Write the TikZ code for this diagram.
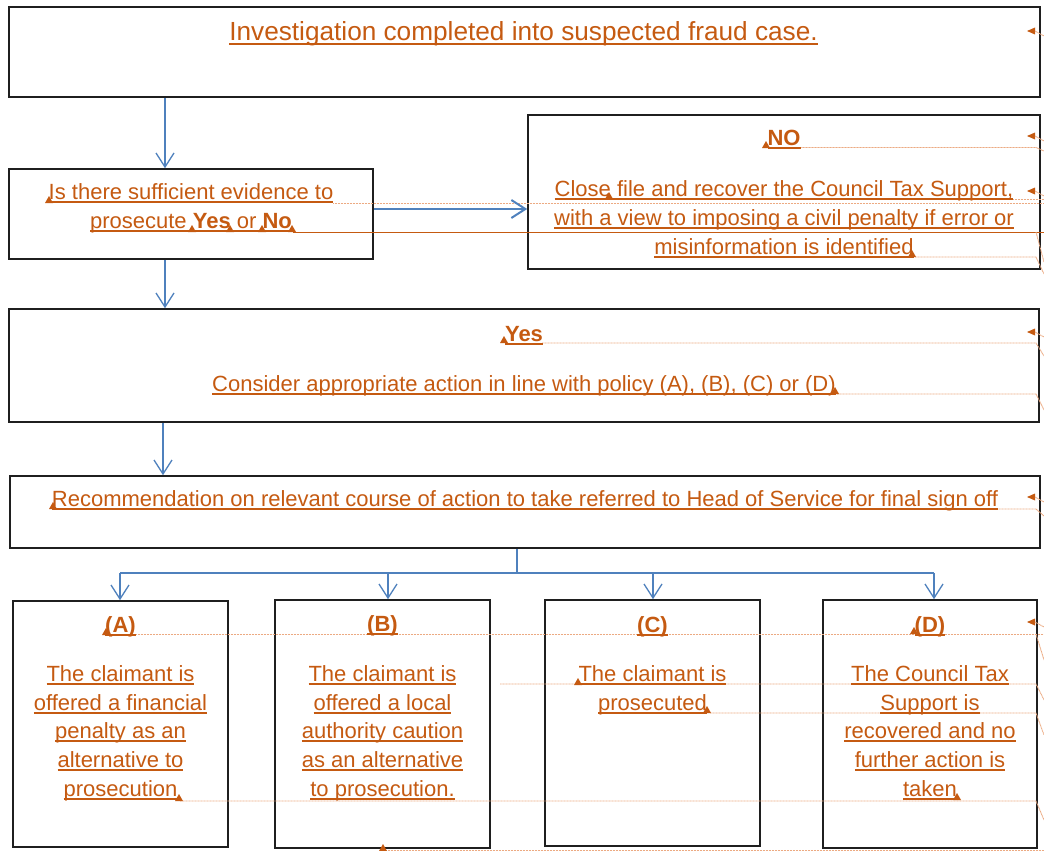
\documentclass[tikz,border=0pt]{standalone}
\usepackage{fontspec}
\setmainfont{Liberation Sans}
\usetikzlibrary{arrows.meta,fit}
\definecolor{orng}{RGB}{197,90,17}
\definecolor{orngl}{RGB}{236,170,130}
\definecolor{blu}{RGB}{79,129,189}
\newsavebox\ulbox
\newcommand\ul[1]{\sbox\ulbox{#1}\rlap{\rule[-3.8pt]{\wd\ulbox}{2.2pt}}\usebox\ulbox}
\newcommand\caretmark[2]{\fill[orng] ({#1-4},{#2+1}) -- ({#1+4},{#2+1}) -- (#1,{#2-6}) -- cycle;}
\newcommand\margmark[1]{\fill[orng] (1027,#1) -- (1035,{#1-3.5}) -- (1035,{#1+3.5}) -- cycle;
  \draw[leadl] (1035,#1) -- (1044,{#1+5});}
\begin{document}
\begin{tikzpicture}[x=1pt,y=-1pt,
  box/.style={draw=black!88, line width=1.6pt, inner sep=0pt},
  arr/.style={draw=blu, line width=1.3pt, -{Straight Barb[length=14pt,width=18pt]}},
  bl/.style={draw=blu, line width=1.3pt},
  tx/.style={text=orng, font=\fontsize{22}{26}\selectfont, inner sep=0pt, anchor=base},
  ttx/.style={tx, font=\fontsize{26.2}{30}\selectfont},
  lead/.style={draw=orng, line width=1pt},
  leadl/.style={draw=orngl, line width=0.9pt, dash pattern=on 1pt off 0.5pt}]
\useasboundingbox (0,0) rectangle (1044,851);
\fill[white] (0,0) rectangle (1044,851);

% boxes
\node[box, fit={(9,7) (1040,97)}] (top) {};
\node[box, fit={(9,169) (373,259)}] (q) {};
\node[box, fit={(528,115) (1040,269)}] (no) {};
\node[box, fit={(9,309) (1039,422)}] (yes) {};
\node[box, fit={(10,476) (1040,548)}] (rec) {};
\node[box, fit={(13,601) (228,847)}] (A) {};
\node[box, fit={(275,600) (490,848)}] (B) {};
\node[box, fit={(545,600) (760,846)}] (C) {};
\node[box, fit={(823,600) (1037,848)}] (D) {};

% leader lines (track changes)
\draw[leadl] (800,147.5) -- (1036,147.5) -- (1044,151);
\draw[leadl] (1013,199) -- (1044,199);
\draw[leadl] (333,203) -- (1044,203);
\draw[lead] (293,232) -- (1044,232);
\draw[leadl] (1036,232) -- (1044,262);
\draw[leadl] (915,257) -- (1036,257) -- (1044,274);
\draw[leadl] (542,343) -- (1036,343) -- (1044,356);
\draw[leadl] (837,394) -- (1036,394) -- (1044,410);
\draw[leadl] (996,509) -- (1036,509) -- (1044,516);
\draw[leadl] (136,634) -- (1044,634);
\draw[leadl] (1036,634) -- (1044,660);
\draw[leadl] (500,684) -- (1036,684) -- (1044,700);
\draw[leadl] (710,713) -- (1036,713) -- (1044,735);
\draw[leadl] (180,801) -- (1036,801) -- (1044,820);
\draw[leadl] (383,850) -- (1044,850);

% margin markers
\margmark{31}
\margmark{136}
\margmark{191}
\margmark{332}
\margmark{497}
\margmark{622}

% texts
\node[ttx] (t1) at (523.5,41) {\ul{Investigation completed into suspected fraud case.}};
\node[tx] (q1) at (191,199) {\ul{Is there sufficient evidence to}};
\node[tx] (q2) at (191,228.5) {\ul{prosecute \textbf{Yes} or \textbf{No}}};
\node[tx] (n0) at (784,145) {\ul{\textbf{NO}}};
\node[tx] (n1) at (784,196) {\ul{Close file and recover the Council Tax Support,}};
\node[tx] (n2) at (784,225) {\ul{with a view to imposing a civil penalty if error or}};
\node[tx] (n3) at (784,254) {\ul{misinformation is identified}};
\node[tx] (y0) at (524,341) {\ul{\textbf{Yes}}};
\node[tx] (y1) at (524,391) {\ul{Consider appropriate action in line with policy (A), (B), (C) or (D)}};
\node[tx] (r1) at (525,506) {\ul{Recommendation on relevant course of action to take referred to Head of Service for final sign off}};

\node[tx] (a0) at (120.5,632) {\ul{\textbf{(A)}}};
\node[tx] (a1) at (120.5,681) {\ul{The claimant is}};
\node[tx] (a2) at (120.5,710) {\ul{offered a financial}};
\node[tx] (a3) at (120.5,738.5) {\ul{penalty as an}};
\node[tx] (a4) at (120.5,767) {\ul{alternative to}};
\node[tx] (a5) at (120.5,796.5) {\ul{prosecution}};

\node[tx] (b0) at (382.5,631) {\ul{\textbf{(B)}}};
\node[tx] (b1) at (382.5,681) {\ul{The claimant is}};
\node[tx] (b2) at (382.5,710) {\ul{offered a local}};
\node[tx] (b3) at (382.5,738.5) {\ul{authority caution}};
\node[tx] (b4) at (382.5,767) {\ul{as an alternative}};
\node[tx] (b5) at (382.5,796) {\ul{to prosecution.}};

\node[tx] (c0) at (652.5,632) {\ul{\textbf{(C)}}};
\node[tx] (c1) at (652.5,681.5) {\ul{The claimant is}};
\node[tx] (c2) at (652.5,710) {\ul{prosecuted}};

\node[tx] (d0) at (930,632) {\ul{\textbf{(D)}}};
\node[tx] (d1) at (930,681) {\ul{The Council Tax}};
\node[tx] (d2) at (930,710) {\ul{Support is}};
\node[tx] (d3) at (930,738.5) {\ul{recovered and no}};
\node[tx] (d4) at (930,767) {\ul{further action is}};
\node[tx] (d5) at (930,796) {\ul{taken}};

% carets
\caretmark{49}{202}
\caretmark{192}{231}
\caretmark{230}{231}
\caretmark{262}{231}
\caretmark{292}{231}
\caretmark{766}{147}
\caretmark{609}{198}
\caretmark{912}{256}
\caretmark{504}{342}
\caretmark{835}{393}
\caretmark{53}{508}
\caretmark{106}{634}
\caretmark{179}{800}
\caretmark{383}{850}
\caretmark{578}{684}
\caretmark{707}{712}
\caretmark{914}{633}
\caretmark{957}{799}

% connectors
\coordinate (x1) at (165,0);
\coordinate (x2) at (163,0);
\coordinate (h1) at (0,209);
\coordinate (j) at (517,573);
\coordinate (jA) at (120,573);
\coordinate (jB) at (388,573);
\coordinate (jC) at (653,573);
\coordinate (jD) at (934,573);
\draw[arr] (top.south -| x1) -- (q.north -| x1);
\draw[arr] (q.south -| x1) -- (yes.north -| x1);
\draw[arr] (yes.south -| x2) -- (rec.north -| x2);
\draw[arr, line width=2pt] (q.east |- h1) -- (no.west |- h1);
\draw[bl] (rec.south -| j) -- (j);
\draw[bl] (jA) -- (jD);
\draw[arr] (jA) -- (A.north -| jA);
\draw[arr] (jB) -- (B.north -| jB);
\draw[arr] (jC) -- (C.north -| jC);
\draw[arr] (jD) -- (D.north -| jD);
\end{tikzpicture}
\end{document}
